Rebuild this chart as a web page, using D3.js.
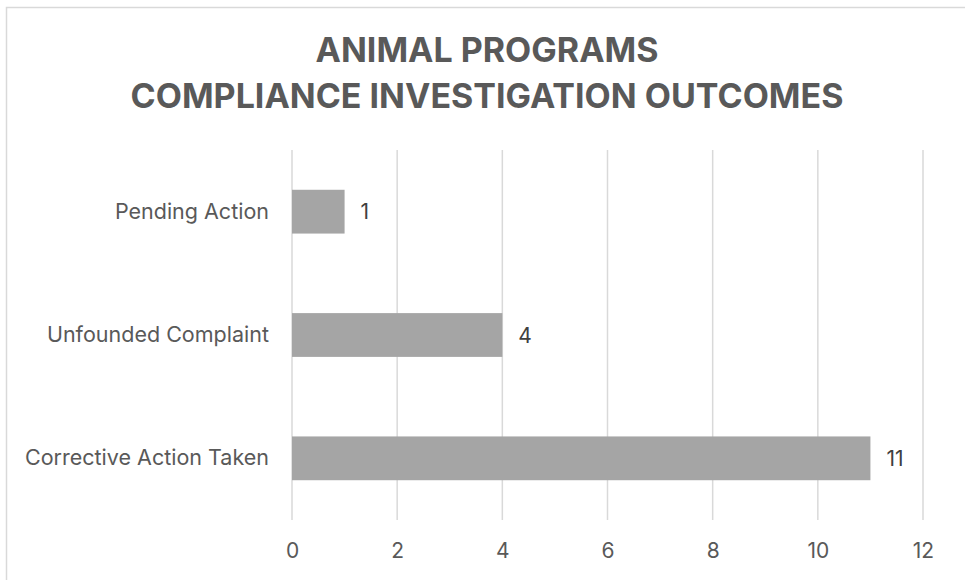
<!DOCTYPE html>
<html>
<head>
<meta charset="utf-8">
<script src="https://cdn.jsdelivr.net/npm/d3@7"></script>
<style>
  body { margin: 0; background: #fff; }
  svg { display: block; font-family: "Inter", "Open Sans", sans-serif; }
</style>
</head>
<body>
<script>
// data
var categories = ["Pending Action", "Unfounded Complaint", "Corrective Action Taken"];
var counts = [1, 4, 11];
var xTicks = [0, 2, 4, 6, 8, 10, 12];
var titleLines = ["ANIMAL PROGRAMS", "COMPLIANCE INVESTIGATION OUTCOMES"];

var W = 965, H = 580;
var margin = {top: 150, right: 42, bottom: 60, left: 292};
var width = W - margin.left - margin.right,
    height = H - margin.top - margin.bottom;

var svg = d3.select("body").append("svg")
    .attr("width", W)
    .attr("height", H);

// chart border (only top/left visible in frame)
svg.append("rect")
    .attr("x", 6.5).attr("y", 7.5)
    .attr("width", 1000).attr("height", 1000)
    .attr("fill", "none")
    .attr("stroke", "#d9d9d9")
    .attr("stroke-width", 1.5);

// title
svg.append("g").selectAll("text")
    .data(titleLines)
    .enter().append("text")
    .attr("x", 487)
    .attr("y", function(d, i) { return 62 + i * 46; })
    .attr("text-anchor", "middle")
    .style("font-size", "34px")
    .style("font-weight", "bold")
    .style("fill", "#595959")
    .text(function(d) { return d; });

var g = svg.append("g")
    .attr("transform", "translate(" + margin.left + "," + margin.top + ")");

var x = d3.scaleLinear().domain([0, 12]).range([0, width]);
var y = d3.scaleBand().domain(categories).range([0, height]).paddingInner(0.645).paddingOuter(0.3225);

// gridlines
g.append("g")
    .selectAll("line")
    .data(xTicks)
    .enter().append("line")
    .attr("x1", function(d) { return x(d); })
    .attr("x2", function(d) { return x(d); })
    .attr("y1", 0)
    .attr("y2", height)
    .attr("stroke", "#d9d9d9")
    .attr("stroke-width", 1.5);

// bars
g.selectAll(".bar")
    .data(counts)
    .enter().append("rect")
    .attr("class", "bar")
    .attr("x", x(0))
    .attr("y", function(d, i) { return y(categories[i]); })
    .attr("width", function(d) { return x(d) - x(0); })
    .attr("height", y.bandwidth())
    .attr("fill", "#a5a5a5");

// value labels
g.selectAll(".val")
    .data(counts)
    .enter().append("text")
    .attr("class", "val")
    .attr("x", function(d) { return x(d) + 16; })
    .attr("y", function(d, i) { return y(categories[i]) + y.bandwidth() / 2; })
    .attr("dy", "0.36em")
    .style("font-size", "21px")
    .style("fill", "#404040")
    .text(function(d) { return d; });

// x axis
var xAxis = g.append("g")
    .attr("transform", "translate(0," + height + ")")
    .call(d3.axisBottom(x).tickValues(xTicks).tickSize(0).tickPadding(23));
xAxis.select(".domain").remove();
xAxis.selectAll("text")
    .style("font-size", "21px")
    .style("font-family", "Inter, 'Open Sans', sans-serif")
    .style("fill", "#595959");

// y axis
var yAxis = g.append("g")
    .call(d3.axisLeft(y).tickSize(0).tickPadding(23));
yAxis.select(".domain").remove();
yAxis.selectAll("text")
    .style("font-size", "21.5px")
    .style("font-family", "Inter, 'Open Sans', sans-serif")
    .style("fill", "#595959");
</script>
</body>
</html>
